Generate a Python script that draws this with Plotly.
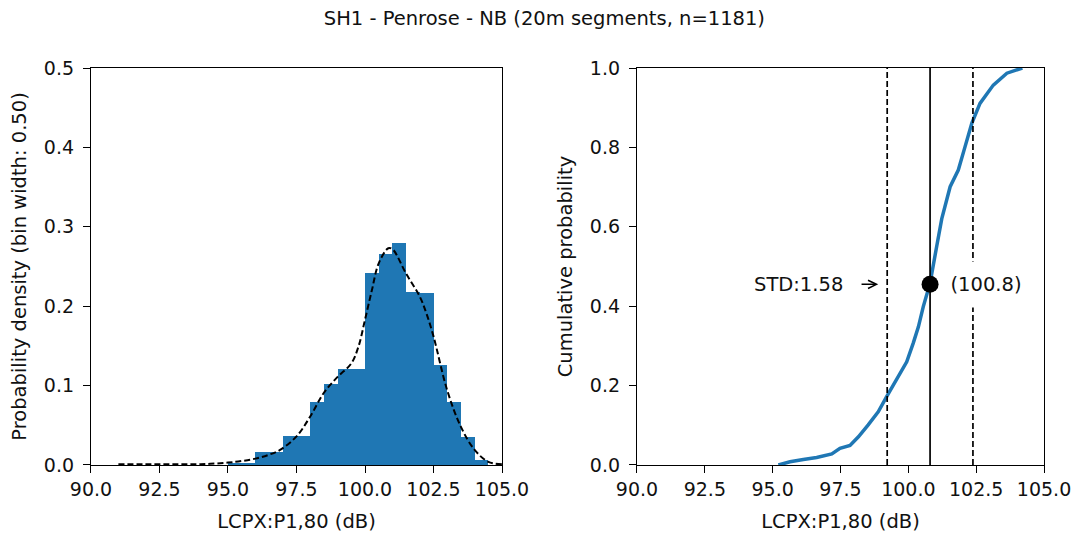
import plotly.graph_objects as go

# ---- data ----
bin_edges = [95.0, 95.5, 96.0, 96.5, 97.0, 97.5, 98.0, 98.5, 99.0, 99.5, 100.0,
             100.5, 101.0, 101.5, 102.0, 102.5, 103.0, 103.5, 104.0]
density = [0.002, 0.003, 0.016, 0.016, 0.037, 0.037, 0.079, 0.102, 0.121, 0.121,
           0.242, 0.266, 0.279, 0.218, 0.216, 0.126, 0.079, 0.035, 0.006]
bin_width = 0.5

kde_x = [91.0, 92.0, 93.0, 94.0, 95.0, 95.5, 96.0, 96.5, 96.9, 97.5, 98.0, 98.5,
         99.0, 99.5, 99.76, 100.0, 100.25, 100.5, 100.85, 101.0, 101.5, 102.0,
         102.25, 102.5, 103.0, 103.5, 104.0, 104.5, 105.0]
kde_y = [0.001, 0.001, 0.001, 0.001, 0.003, 0.005, 0.008, 0.013, 0.019, 0.036,
         0.061, 0.091, 0.111, 0.128, 0.149, 0.183, 0.220, 0.254, 0.273, 0.272,
         0.241, 0.212, 0.190, 0.162, 0.094, 0.048, 0.019, 0.004, 0.001]

cdf_x = [95.21, 95.64, 96.13, 96.62, 97.18, 97.48, 97.85, 98.16, 98.52, 98.89,
         99.20, 99.57, 99.94, 100.18, 100.37, 100.55, 100.8, 101.05, 101.23,
         101.54, 101.84, 102.09, 102.34, 102.64, 103.13, 103.63, 104.12, 104.2]
cdf_y = [0.0, 0.008, 0.014, 0.019, 0.028, 0.042, 0.049, 0.071, 0.101, 0.134,
         0.172, 0.218, 0.260, 0.307, 0.348, 0.399, 0.458, 0.553, 0.620,
         0.701, 0.743, 0.802, 0.861, 0.911, 0.957, 0.987, 0.997, 1.0]

mean_val = 100.8
std_val = 1.58
cdf_at_mean = 0.455
n_segments = 1181

blue = "#1f77b4"
tick_font = dict(family="DejaVu Sans", size=19, color="#111111")
label_font = dict(family="DejaVu Sans", size=19.5, color="#111111")

bin_centers = [e + bin_width / 2 for e in bin_edges]
x_ticks = [90, 92.5, 95, 97.5, 100, 102.5, 105]
x_ticktext = ["%.1f" % v for v in x_ticks]

fig = go.Figure()

# histogram
fig.add_trace(go.Bar(x=bin_centers, y=density, width=bin_width,
                     marker=dict(color=blue, line=dict(width=0)),
                     xaxis="x", yaxis="y", showlegend=False))
# kernel density estimate
fig.add_trace(go.Scatter(x=kde_x, y=kde_y, mode="lines", line_shape="spline",
                         line=dict(color="black", width=2, dash="6px,3px"),
                         xaxis="x", yaxis="y", showlegend=False))

# cumulative distribution
fig.add_trace(go.Scatter(x=cdf_x, y=cdf_y, mode="lines",
                         line=dict(color=blue, width=3.5),
                         xaxis="x2", yaxis="y2", showlegend=False))
# mean and +/- one standard deviation
fig.add_trace(go.Scatter(x=[mean_val, mean_val], y=[0, 1], mode="lines",
                         line=dict(color="black", width=1.7),
                         xaxis="x2", yaxis="y2", showlegend=False))
for xv in (mean_val - std_val, mean_val + std_val):
    fig.add_trace(go.Scatter(x=[xv, xv], y=[0, 1], mode="lines",
                             line=dict(color="black", width=1.7, dash="6px,3px"),
                             xaxis="x2", yaxis="y2", showlegend=False))
fig.add_trace(go.Scatter(x=[mean_val], y=[cdf_at_mean], mode="markers",
                         marker=dict(color="black", size=17),
                         xaxis="x2", yaxis="y2", showlegend=False))

axis_common = dict(showline=True, linecolor="black", linewidth=1.2, mirror=True,
                   ticks="outside", ticklen=7, tickwidth=1.2, tickcolor="black",
                   showgrid=False, zeroline=False, tickfont=tick_font, automargin=False)

fig.update_layout(
    width=1078, height=536,
    margin=dict(l=0, r=0, t=0, b=0),
    paper_bgcolor="white", plot_bgcolor="white",
    bargap=0,
    font=label_font,
    xaxis=dict(domain=[0.0844, 0.4657], range=[90, 105], tickvals=x_ticks, ticktext=x_ticktext,
               title=dict(text="LCPX:P1,80 (dB)", font=label_font, standoff=15), anchor="y", **axis_common),
    yaxis=dict(domain=[0.1325, 0.8731], range=[0, 0.5], tickvals=[0, 0.1, 0.2, 0.3, 0.4, 0.5],
               ticktext=["0.0", "0.1", "0.2", "0.3", "0.4", "0.5"], ticklabelstandoff=5,
               title=dict(text="Probability density (bin width: %.2f)" % bin_width, font=label_font, standoff=12),
               anchor="x", **axis_common),
    xaxis2=dict(domain=[0.5909, 0.9685], range=[90, 105], tickvals=x_ticks, ticktext=x_ticktext,
                title=dict(text="LCPX:P1,80 (dB)", font=label_font, standoff=15), anchor="y2", **axis_common),
    yaxis2=dict(domain=[0.1325, 0.8731], range=[0, 1], tickvals=[0, 0.2, 0.4, 0.6, 0.8, 1.0],
                ticktext=["0.0", "0.2", "0.4", "0.6", "0.8", "1.0"], ticklabelstandoff=5,
                title=dict(text="Cumulative probability", font=label_font, standoff=12),
                anchor="x2", **axis_common),
    title=dict(text="SH1 - Penrose - NB (20m segments, n=%d)" % n_segments, font=label_font,
               x=0.505, xanchor="center", y=0.966, yanchor="middle"),
)

# value label for the mean, with a white box over the dashed line
fig.add_annotation(x=mean_val + 2.06, y=cdf_at_mean, xref="x2", yref="y2",
                   text="(%.1f)" % mean_val, showarrow=False, font=label_font,
                   bgcolor="white", width=80, height=45, borderpad=0)
# standard deviation label with arrow pointing to the lower dashed line
fig.add_annotation(x=mean_val - std_val - 3.27, y=cdf_at_mean, xref="x2", yref="y2",
                   text="STD:%.2f" % std_val, showarrow=False, font=label_font)
fig.add_annotation(x=mean_val - std_val - 0.33, y=cdf_at_mean, xref="x2", yref="y2",
                   ax=mean_val - std_val - 1.0, ay=cdf_at_mean, axref="x2", ayref="y2",
                   text="", showarrow=True, arrowhead=5, arrowsize=1.1, arrowwidth=1.5,
                   arrowcolor="black")

fig.write_html("out.html")
